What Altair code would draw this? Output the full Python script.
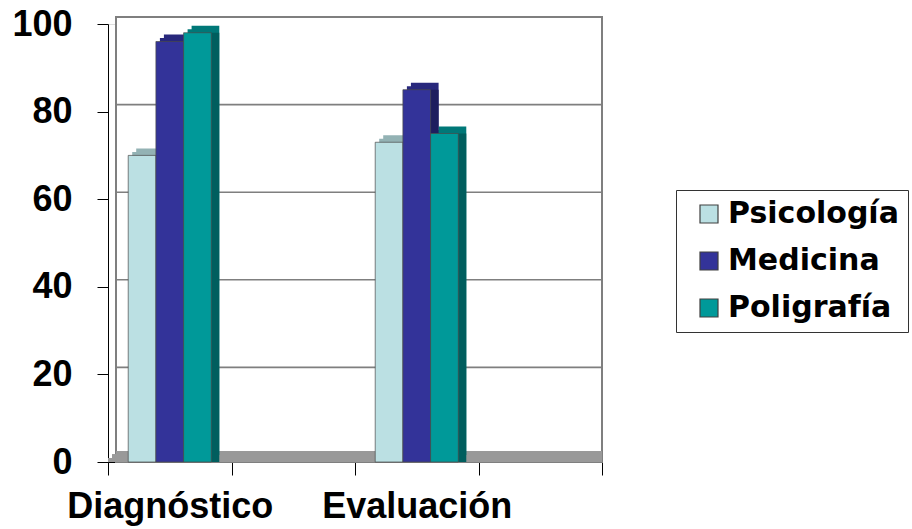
import altair as alt
import pandas as pd

# ---- data ----
categories = ["Diagnóstico", "Evaluación"]
slots = ["Diagnóstico", " ", "Evaluación", "  "]   # two empty category slots
series = ["Psicología", "Medicina", "Poligrafía"]
psicologia = [70, 73]
medicina = [96, 85]
poligrafia = [98, 75]
y_ticks = [0, 20, 40, 60, 80, 100]
grid_values = [20, 40, 60, 80, 100]

front_colors = ["#BBE0E3", "#333399", "#009999"]
top_colors = ["#93B2B4", "#28287C", "#007878"]
side_colors = ["#88A6A8", "#1E1E5E", "#005E5E"]

rows = []
for s_i, (name, vals) in enumerate(zip(series, [psicologia, medicina, poligrafia])):
    for c, v in zip(categories, vals):
        rows.append({"cat": c, "series": name, "value": v,
                     "topc": top_colors[s_i], "sidec": side_colors[s_i]})
df = pd.DataFrame(rows)
grid_df = pd.DataFrame({"value": grid_values})

W, H = 494, 438
STEP = W / len(slots)
DX, DY = 8, -7   # 3D depth shift in pixels

x_enc = alt.X("cat:N", scale=alt.Scale(domain=slots, paddingInner=0, paddingOuter=0),
              sort=slots,
              axis=alt.Axis(title=None, labelAngle=0, tickBand="extent", tickSize=13,
                            tickColor="black", domainColor="black", labelPadding=14,
                            labelFont="Liberation Sans", labelFontWeight="bold",
                            labelFontSize=36, labelColor="black", grid=False,
                            labelLimit=400))


def xo_enc(shift):
    return alt.XOffset("series:N", sort=series,
                       scale=alt.Scale(domain=series, paddingOuter=0.73, paddingInner=0,
                                       range=[shift, STEP + shift]))


y_scale = alt.Scale(domain=[0, 100], nice=False)
y_axis = alt.Axis(title=None, values=y_ticks, tickSize=11, labelPadding=25,
                  tickColor="black", domainColor="black",
                  labelFont="Liberation Sans", labelFontWeight="bold",
                  labelFontSize=36, labelColor="black", grid=False)
y_enc = alt.Y("value:Q", scale=y_scale, axis=y_axis)

# back wall frame
wall = alt.Chart(grid_df).mark_rect(fill="white", stroke="#7F7F7F", strokeWidth=2,
                                    xOffset=DX, yOffset=DY).encode(
    x=alt.value(0), x2=alt.value(W), y=alt.value(0), y2=alt.value(H))

# gridlines on back wall
grid = alt.Chart(grid_df).mark_rule(color="#7F7F7F", strokeWidth=1.6,
                                    xOffset=DX, yOffset=DY).encode(
    y=y_enc, x=alt.value(0), x2=alt.value(W))

# floor (stepped parallelogram)
floor_a = alt.Chart(grid_df).mark_rect(fill="#999999", xOffset=DX, yOffset=DY).encode(
    x=alt.value(0), x2=alt.value(W), y=alt.value(H - 4), y2=alt.value(H))
floor_b = alt.Chart(grid_df).mark_rect(fill="#999999", xOffset=DX / 2, yOffset=DY / 2).encode(
    x=alt.value(0), x2=alt.value(W), y=alt.value(H - 4), y2=alt.value(H))
floor_c = alt.Chart(grid_df).mark_rect(fill="#999999").encode(
    x=alt.value(0), x2=alt.value(W), y=alt.value(H - 4), y2=alt.value(H))

base = alt.Chart(df)

top_face = base.mark_bar(yOffset=DY).encode(
    x=x_enc, xOffset=xo_enc(DX), y=y_enc,
    fill=alt.Fill("topc:N", scale=None))

top_face_mid = base.mark_bar(yOffset=DY / 2).encode(
    x=x_enc, xOffset=xo_enc(DX / 2), y=y_enc,
    fill=alt.Fill("topc:N", scale=None))

side_face = base.mark_bar().encode(
    x=x_enc, xOffset=xo_enc(DX), y=y_enc,
    fill=alt.Fill("sidec:N", scale=None))

front = base.mark_bar(stroke="#4A4A4A", strokeWidth=0.7).encode(
    x=x_enc, xOffset=xo_enc(0), y=y_enc,
    color=alt.Color("series:N", sort=series,
                    scale=alt.Scale(domain=series, range=front_colors),
                    legend=alt.Legend(title=None, orient="none", legendX=568, legendY=166,
                                      symbolType="square", symbolSize=324,
                                      symbolStrokeColor="#404040", symbolStrokeWidth=1.2,
                                      symbolOffset=9, labelOffset=4,
                                      labelFont="DejaVu Sans", labelFontWeight="bold",
                                      labelFontSize=30, labelColor="black",
                                      labelLimit=400,
                                      rowPadding=17, padding=9,
                                      strokeColor="#333333")))

bars = alt.layer(top_face, top_face_mid, side_face, front).resolve_scale(xOffset="independent")

chart = alt.layer(wall, grid, floor_a, floor_b, floor_c, bars).properties(
    width=W, height=H,
    autosize=alt.AutoSizeParams(type="none"),
    padding={"left": 108, "top": 24, "right": 912 - 108 - W, "bottom": 529 - 24 - H},
).configure_view(stroke=None).configure(background="white")

chart.save("out.html", embed_options={"renderer": "svg", "actions": False})
